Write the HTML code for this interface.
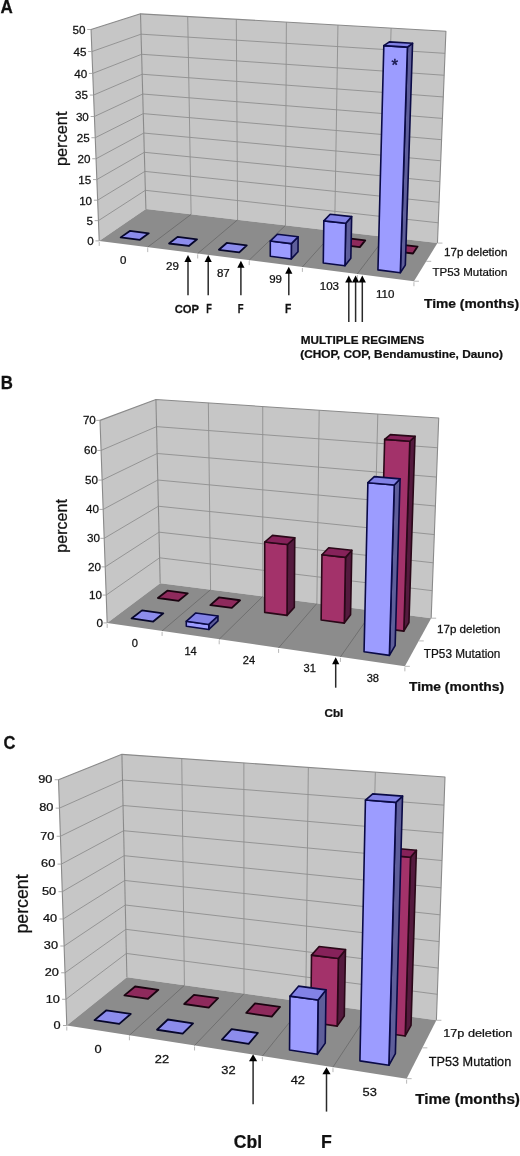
<!DOCTYPE html>
<html><head><meta charset="utf-8"><style>
html,body{margin:0;padding:0;background:#fff;}
svg{display:block;will-change:transform;}
text{font-family:"Liberation Sans", sans-serif;fill:#111;stroke:#111;stroke-width:0.25px;}
</style></head><body>
<svg width="520" height="1156" viewBox="0 0 520 1156">
<rect width="520" height="1156" fill="#fff"/>
<polygon points="99.22,240.88 91.04,29.49 140.49,13.85 145.89,209.08" fill="#c6c6c6"/>
<polygon points="145.89,209.08 140.49,13.85 445.92,31.22 437.46,243.09" fill="#c6c6c6"/>
<polygon points="99.22,240.88 145.89,209.08 437.46,243.09 413.93,281.23" fill="#8c8c8c"/>
<polyline points="98.44,220.64 145.37,190.32 438.27,222.80" fill="none" stroke="#8e8e8e" stroke-width="0.9"/>
<polyline points="97.65,200.20 144.85,171.40 439.09,202.32" fill="none" stroke="#8e8e8e" stroke-width="0.9"/>
<polyline points="96.85,179.57 144.32,152.30 439.91,181.65" fill="none" stroke="#8e8e8e" stroke-width="0.9"/>
<polyline points="96.04,158.75 143.79,133.05 440.75,160.77" fill="none" stroke="#8e8e8e" stroke-width="0.9"/>
<polyline points="95.23,137.72 143.25,113.62 441.59,139.70" fill="none" stroke="#8e8e8e" stroke-width="0.9"/>
<polyline points="94.41,116.49 142.71,94.02 442.44,118.42" fill="none" stroke="#8e8e8e" stroke-width="0.9"/>
<polyline points="93.58,95.06 142.16,74.24 443.30,96.94" fill="none" stroke="#8e8e8e" stroke-width="0.9"/>
<polyline points="92.74,73.41 141.61,54.29 444.16,75.25" fill="none" stroke="#8e8e8e" stroke-width="0.9"/>
<polyline points="91.90,51.56 141.05,34.16 445.04,53.34" fill="none" stroke="#8e8e8e" stroke-width="0.9"/>
<line x1="191.11" y1="214.36" x2="187.71" y2="16.54" stroke="#8e8e8e" stroke-width="0.9"/>
<line x1="147.72" y1="247.10" x2="191.11" y2="214.36" stroke="#6c6c6c" stroke-width="0.9"/>
<line x1="237.61" y1="219.78" x2="236.31" y2="19.30" stroke="#8e8e8e" stroke-width="0.9"/>
<line x1="197.70" y1="253.51" x2="237.61" y2="219.78" stroke="#6c6c6c" stroke-width="0.9"/>
<line x1="285.44" y1="225.36" x2="286.37" y2="22.15" stroke="#8e8e8e" stroke-width="0.9"/>
<line x1="249.23" y1="260.12" x2="285.44" y2="225.36" stroke="#6c6c6c" stroke-width="0.9"/>
<line x1="334.64" y1="231.10" x2="337.94" y2="25.08" stroke="#8e8e8e" stroke-width="0.9"/>
<line x1="302.40" y1="266.93" x2="334.64" y2="231.10" stroke="#6c6c6c" stroke-width="0.9"/>
<line x1="385.30" y1="237.01" x2="391.10" y2="28.10" stroke="#8e8e8e" stroke-width="0.9"/>
<line x1="357.27" y1="273.97" x2="385.30" y2="237.01" stroke="#6c6c6c" stroke-width="0.9"/>
<polyline points="99.22,240.88 91.04,29.49 140.49,13.85 445.92,31.22 437.46,243.09" fill="none" stroke="#8a8a8a" stroke-width="1.1" stroke-linejoin="round"/>
<line x1="140.49" y1="13.85" x2="145.89" y2="209.08" stroke="#8a8a8a" stroke-width="1.1"/>
<line x1="95.42" y1="240.88" x2="99.22" y2="240.88" stroke="#a0a0a0" stroke-width="0.9"/>
<text transform="translate(87.18,245.19) scale(1.0700,1)" font-size="10.90">0</text>
<line x1="94.64" y1="220.64" x2="98.44" y2="220.64" stroke="#a0a0a0" stroke-width="0.9"/>
<text transform="translate(86.43,224.94) scale(1.0700,1)" font-size="10.90">5</text>
<line x1="93.85" y1="200.20" x2="97.65" y2="200.20" stroke="#a0a0a0" stroke-width="0.9"/>
<text transform="translate(79.14,204.51) scale(1.0700,1)" font-size="10.90">10</text>
<line x1="93.05" y1="179.57" x2="96.85" y2="179.57" stroke="#a0a0a0" stroke-width="0.9"/>
<text transform="translate(78.37,183.88) scale(1.0700,1)" font-size="10.90">15</text>
<line x1="92.24" y1="158.75" x2="96.04" y2="158.75" stroke="#a0a0a0" stroke-width="0.9"/>
<text transform="translate(77.53,163.05) scale(1.0700,1)" font-size="10.90">20</text>
<line x1="91.43" y1="137.72" x2="95.23" y2="137.72" stroke="#a0a0a0" stroke-width="0.9"/>
<text transform="translate(76.75,142.02) scale(1.0700,1)" font-size="10.90">25</text>
<line x1="90.61" y1="116.49" x2="94.41" y2="116.49" stroke="#a0a0a0" stroke-width="0.9"/>
<text transform="translate(75.90,120.80) scale(1.0700,1)" font-size="10.90">30</text>
<line x1="89.78" y1="95.06" x2="93.58" y2="95.06" stroke="#a0a0a0" stroke-width="0.9"/>
<text transform="translate(75.10,99.36) scale(1.0700,1)" font-size="10.90">35</text>
<line x1="88.94" y1="73.41" x2="92.74" y2="73.41" stroke="#a0a0a0" stroke-width="0.9"/>
<text transform="translate(74.23,77.72) scale(1.0700,1)" font-size="10.90">40</text>
<line x1="88.10" y1="51.56" x2="91.90" y2="51.56" stroke="#a0a0a0" stroke-width="0.9"/>
<text transform="translate(73.42,55.86) scale(1.0700,1)" font-size="10.90">45</text>
<line x1="87.24" y1="29.49" x2="91.04" y2="29.49" stroke="#a0a0a0" stroke-width="0.9"/>
<text transform="translate(72.53,33.79) scale(1.0700,1)" font-size="10.90">50</text>
<line x1="99.22" y1="241.88" x2="99.22" y2="245.88" stroke="#b0b0b0" stroke-width="0.9"/>
<line x1="147.72" y1="248.10" x2="147.72" y2="252.10" stroke="#b0b0b0" stroke-width="0.9"/>
<line x1="197.70" y1="254.51" x2="197.70" y2="258.51" stroke="#b0b0b0" stroke-width="0.9"/>
<line x1="249.23" y1="261.12" x2="249.23" y2="265.12" stroke="#b0b0b0" stroke-width="0.9"/>
<line x1="302.40" y1="267.93" x2="302.40" y2="271.93" stroke="#b0b0b0" stroke-width="0.9"/>
<line x1="357.27" y1="274.97" x2="357.27" y2="278.97" stroke="#b0b0b0" stroke-width="0.9"/>
<line x1="413.93" y1="282.23" x2="413.93" y2="286.23" stroke="#b0b0b0" stroke-width="0.9"/>
<line x1="413.93" y1="281.23" x2="418.93" y2="281.23" stroke="#b0b0b0" stroke-width="0.9"/>
<line x1="426.23" y1="261.30" x2="431.23" y2="261.30" stroke="#b0b0b0" stroke-width="0.9"/>
<line x1="437.46" y1="243.09" x2="442.46" y2="243.09" stroke="#b0b0b0" stroke-width="0.9"/>
<polygon points="339.04,244.60 359.85,247.10 365.25,240.37 344.75,237.95" fill="#8e2a5c" stroke="#1a0410" stroke-width="1.8" stroke-linejoin="round"/>
<polygon points="391.54,250.92 412.99,253.50 417.57,246.56 396.46,244.06" fill="#8e2a5c" stroke="#1a0410" stroke-width="1.8" stroke-linejoin="round"/>
<polygon points="120.68,237.38 139.86,239.80 148.76,233.30 129.85,230.95" fill="#8c8cec" stroke="#06062a" stroke-width="1.8" stroke-linejoin="round"/>
<polygon points="169.05,243.49 188.81,245.98 197.04,239.28 177.56,236.87" fill="#8c8cec" stroke="#06062a" stroke-width="1.8" stroke-linejoin="round"/>
<polygon points="218.90,249.78 239.27,252.35 246.77,245.44 226.70,242.96" fill="#8c8cec" stroke="#06062a" stroke-width="1.8" stroke-linejoin="round"/>
<polygon points="291.28,258.92 298.01,251.79 298.12,236.74 291.37,243.63" fill="#5e5e9a" stroke="#0a0a46" stroke-width="1.6" stroke-linejoin="round"/>
<polygon points="270.28,256.27 291.28,258.92 291.37,243.63 270.30,241.06" fill="#9c9cff" stroke="#0a0a46" stroke-width="1.6" stroke-linejoin="round"/>
<polygon points="270.30,241.06 291.37,243.63 298.12,236.74 277.37,234.26" fill="#8282e6" stroke="#0a0a46" stroke-width="1.6" stroke-linejoin="round"/>
<polygon points="344.94,265.70 350.84,258.34 351.67,216.64 345.72,223.33" fill="#5e5e9a" stroke="#0a0a46" stroke-width="1.6" stroke-linejoin="round"/>
<polygon points="323.27,262.96 344.94,265.70 345.72,223.33 323.84,220.84" fill="#9c9cff" stroke="#0a0a46" stroke-width="1.6" stroke-linejoin="round"/>
<polygon points="323.84,220.84 345.72,223.33 351.67,216.64 330.13,214.23" fill="#8282e6" stroke="#0a0a46" stroke-width="1.6" stroke-linejoin="round"/>
<polygon points="400.31,272.69 405.33,265.09 412.56,43.29 407.41,47.10" fill="#5e5e9a" stroke="#0a0a46" stroke-width="1.6" stroke-linejoin="round"/>
<polygon points="377.95,269.87 400.31,272.69 407.41,47.10 383.83,45.64" fill="#9c9cff" stroke="#0a0a46" stroke-width="1.6" stroke-linejoin="round"/>
<polygon points="383.83,45.64 407.41,47.10 412.56,43.29 389.38,41.88" fill="#8282e6" stroke="#0a0a46" stroke-width="1.6" stroke-linejoin="round"/>
<text transform="translate(120.07,263.93) scale(1.1000,1)" font-size="10.50">0</text>
<text transform="translate(166.08,270.25) scale(1.1000,1)" font-size="10.50">29</text>
<text transform="translate(216.90,276.75) scale(1.1000,1)" font-size="10.50">87</text>
<text transform="translate(269.18,283.46) scale(1.1000,1)" font-size="10.50">99</text>
<text transform="translate(319.80,290.39) scale(1.1000,1)" font-size="10.50">103</text>
<text transform="translate(375.95,297.54) scale(1.1000,1)" font-size="10.50">110</text>
<text transform="translate(0.52,12.70) scale(0.9715,1)" font-size="17.51" font-weight="bold">A</text>
<text transform="translate(66.67,166.11) rotate(-90) scale(1.0230,1)" font-size="16.00">percent</text>
<text transform="translate(443.98,256.25) scale(1.1367,1)" font-size="10.24">17p deletion</text>
<text transform="translate(432.49,275.50) scale(1.0096,1)" font-size="11.41">TP53 Mutation</text>
<text transform="translate(423.93,308.00) scale(1.0708,1)" font-size="12.94" font-weight="bold">Time (months)</text>
<line x1="188" y1="261" x2="188" y2="295.3" stroke="#2a2a2a" stroke-width="1.5"/>
<polygon points="188,255 184.4,262 191.6,262" fill="#000"/>
<line x1="208.2" y1="261" x2="208.2" y2="295.3" stroke="#2a2a2a" stroke-width="1.5"/>
<polygon points="208.2,255 204.6,262 211.79999999999998,262" fill="#000"/>
<line x1="240.9" y1="266.8" x2="240.9" y2="295.3" stroke="#2a2a2a" stroke-width="1.5"/>
<polygon points="240.9,260.8 237.3,267.8 244.5,267.8" fill="#000"/>
<line x1="288.8" y1="272.7" x2="288.8" y2="295.3" stroke="#2a2a2a" stroke-width="1.5"/>
<polygon points="288.8,266.7 285.2,273.7 292.40000000000003,273.7" fill="#000"/>
<line x1="348.8" y1="281.4" x2="348.8" y2="322" stroke="#2a2a2a" stroke-width="1.5"/>
<polygon points="348.8,275.4 345.2,282.4 352.40000000000003,282.4" fill="#000"/>
<line x1="355.6" y1="281.4" x2="355.6" y2="322" stroke="#2a2a2a" stroke-width="1.5"/>
<polygon points="355.6,275.4 352.0,282.4 359.20000000000005,282.4" fill="#000"/>
<line x1="362.3" y1="281.4" x2="362.3" y2="322" stroke="#2a2a2a" stroke-width="1.5"/>
<polygon points="362.3,275.4 358.7,282.4 365.90000000000003,282.4" fill="#000"/>
<text transform="translate(174.70,312.50) scale(0.9502,1)" font-size="11.82" font-weight="bold">COP</text>
<text transform="translate(206.13,312.50) scale(0.7641,1)" font-size="11.99" font-weight="bold">F</text>
<text transform="translate(237.71,312.50) scale(0.7888,1)" font-size="11.99" font-weight="bold">F</text>
<text transform="translate(284.95,312.50) scale(0.8627,1)" font-size="11.99" font-weight="bold">F</text>
<text transform="translate(300.81,343.75) scale(1.0212,1)" font-size="11.48" font-weight="bold">MULTIPLE REGIMENS</text>
<text transform="translate(300.26,358.00) scale(1.0655,1)" font-size="11.12" font-weight="bold">(CHOP, COP, Bendamustine, Dauno)</text>
<text x="391.51" y="70.64" font-size="16.86" style="fill:#1a1a50;stroke:#1a1a50;stroke-width:0.5px">*</text>
<polygon points="107.18,622.91 100.00,420.36 155.92,399.49 160.19,583.15" fill="#c6c6c6"/>
<polygon points="160.19,583.15 155.92,399.49 438.72,418.07 431.17,618.20" fill="#c6c6c6"/>
<polygon points="107.18,622.91 160.19,583.15 431.17,618.20 404.87,666.33" fill="#8c8c8c"/>
<polyline points="106.20,595.07 159.60,557.81 432.21,590.67" fill="none" stroke="#8e8e8e" stroke-width="0.9"/>
<polyline points="105.20,566.87 159.00,532.17 433.26,562.81" fill="none" stroke="#8e8e8e" stroke-width="0.9"/>
<polyline points="104.18,538.32 158.40,506.24 434.32,534.59" fill="none" stroke="#8e8e8e" stroke-width="0.9"/>
<polyline points="103.16,509.40 157.79,480.02 435.40,506.01" fill="none" stroke="#8e8e8e" stroke-width="0.9"/>
<polyline points="102.12,480.10 157.17,453.49 436.49,477.07" fill="none" stroke="#8e8e8e" stroke-width="0.9"/>
<polyline points="101.07,450.43 156.55,426.64 437.60,447.76" fill="none" stroke="#8e8e8e" stroke-width="0.9"/>
<line x1="210.59" y1="589.67" x2="208.35" y2="402.93" stroke="#8e8e8e" stroke-width="0.9"/>
<line x1="162.10" y1="630.92" x2="210.59" y2="589.67" stroke="#6c6c6c" stroke-width="0.9"/>
<line x1="262.79" y1="596.42" x2="262.74" y2="406.50" stroke="#8e8e8e" stroke-width="0.9"/>
<line x1="219.19" y1="639.25" x2="262.79" y2="596.42" stroke="#6c6c6c" stroke-width="0.9"/>
<line x1="316.88" y1="603.42" x2="319.18" y2="410.21" stroke="#8e8e8e" stroke-width="0.9"/>
<line x1="278.58" y1="647.91" x2="316.88" y2="603.42" stroke="#6c6c6c" stroke-width="0.9"/>
<line x1="372.97" y1="610.67" x2="377.80" y2="414.06" stroke="#8e8e8e" stroke-width="0.9"/>
<line x1="340.43" y1="656.93" x2="372.97" y2="610.67" stroke="#6c6c6c" stroke-width="0.9"/>
<polyline points="107.18,622.91 100.00,420.36 155.92,399.49 438.72,418.07 431.17,618.20" fill="none" stroke="#8a8a8a" stroke-width="1.1" stroke-linejoin="round"/>
<line x1="155.92" y1="399.49" x2="160.19" y2="583.15" stroke="#8a8a8a" stroke-width="1.1"/>
<line x1="103.38" y1="622.91" x2="107.18" y2="622.91" stroke="#a0a0a0" stroke-width="0.9"/>
<text transform="translate(96.55,626.92) scale(1.0700,1)" font-size="10.90">0</text>
<line x1="102.40" y1="595.07" x2="106.20" y2="595.07" stroke="#a0a0a0" stroke-width="0.9"/>
<text transform="translate(89.09,599.07) scale(1.0700,1)" font-size="10.90">10</text>
<line x1="101.40" y1="566.87" x2="105.20" y2="566.87" stroke="#a0a0a0" stroke-width="0.9"/>
<text transform="translate(88.09,570.88) scale(1.0700,1)" font-size="10.90">20</text>
<line x1="100.38" y1="538.32" x2="104.18" y2="538.32" stroke="#a0a0a0" stroke-width="0.9"/>
<text transform="translate(87.07,542.32) scale(1.0700,1)" font-size="10.90">30</text>
<line x1="99.36" y1="509.40" x2="103.16" y2="509.40" stroke="#a0a0a0" stroke-width="0.9"/>
<text transform="translate(86.05,513.40) scale(1.0700,1)" font-size="10.90">40</text>
<line x1="98.32" y1="480.10" x2="102.12" y2="480.10" stroke="#a0a0a0" stroke-width="0.9"/>
<text transform="translate(85.01,484.11) scale(1.0700,1)" font-size="10.90">50</text>
<line x1="97.27" y1="450.43" x2="101.07" y2="450.43" stroke="#a0a0a0" stroke-width="0.9"/>
<text transform="translate(83.96,454.43) scale(1.0700,1)" font-size="10.90">60</text>
<line x1="96.20" y1="420.36" x2="100.00" y2="420.36" stroke="#a0a0a0" stroke-width="0.9"/>
<text transform="translate(82.89,424.37) scale(1.0700,1)" font-size="10.90">70</text>
<line x1="107.18" y1="623.91" x2="107.18" y2="627.91" stroke="#b0b0b0" stroke-width="0.9"/>
<line x1="162.10" y1="631.92" x2="162.10" y2="635.92" stroke="#b0b0b0" stroke-width="0.9"/>
<line x1="219.19" y1="640.25" x2="219.19" y2="644.25" stroke="#b0b0b0" stroke-width="0.9"/>
<line x1="278.58" y1="648.91" x2="278.58" y2="652.91" stroke="#b0b0b0" stroke-width="0.9"/>
<line x1="340.43" y1="657.93" x2="340.43" y2="661.93" stroke="#b0b0b0" stroke-width="0.9"/>
<line x1="404.87" y1="667.33" x2="404.87" y2="671.33" stroke="#b0b0b0" stroke-width="0.9"/>
<line x1="404.87" y1="666.33" x2="409.87" y2="666.33" stroke="#b0b0b0" stroke-width="0.9"/>
<line x1="418.76" y1="640.91" x2="423.76" y2="640.91" stroke="#b0b0b0" stroke-width="0.9"/>
<line x1="431.17" y1="618.20" x2="436.17" y2="618.20" stroke="#b0b0b0" stroke-width="0.9"/>
<polygon points="157.90,598.01 178.64,600.80 187.75,593.36 167.34,590.68" fill="#8e2a5c" stroke="#1a0410" stroke-width="1.8" stroke-linejoin="round"/>
<polygon points="210.33,605.07 231.84,607.96 240.07,600.25 218.92,597.46" fill="#8e2a5c" stroke="#1a0410" stroke-width="1.8" stroke-linejoin="round"/>
<polygon points="287.02,615.39 294.30,607.39 294.77,537.83 287.38,544.53" fill="#541a3e" stroke="#2a0818" stroke-width="1.6" stroke-linejoin="round"/>
<polygon points="264.70,612.39 287.02,615.39 287.38,544.53 264.71,542.01" fill="#a3326a" stroke="#2a0818" stroke-width="1.6" stroke-linejoin="round"/>
<polygon points="264.71,542.01 287.38,544.53 294.77,537.83 272.50,535.42" fill="#86225a" stroke="#2a0818" stroke-width="1.6" stroke-linejoin="round"/>
<polygon points="344.30,623.10 350.55,614.79 351.81,550.28 345.49,557.35" fill="#541a3e" stroke="#2a0818" stroke-width="1.6" stroke-linejoin="round"/>
<polygon points="321.13,619.98 344.30,623.10 345.49,557.35 321.97,554.69" fill="#a3326a" stroke="#2a0818" stroke-width="1.6" stroke-linejoin="round"/>
<polygon points="321.97,554.69 345.49,557.35 351.81,550.28 328.72,547.73" fill="#86225a" stroke="#2a0818" stroke-width="1.6" stroke-linejoin="round"/>
<polygon points="403.80,631.11 408.94,622.48 415.04,436.35 409.81,441.25" fill="#541a3e" stroke="#2a0818" stroke-width="1.6" stroke-linejoin="round"/>
<polygon points="379.73,627.87 403.80,631.11 409.81,441.25 384.66,439.40" fill="#a3326a" stroke="#2a0818" stroke-width="1.6" stroke-linejoin="round"/>
<polygon points="384.66,439.40 409.81,441.25 415.04,436.35 390.38,434.58" fill="#86225a" stroke="#2a0818" stroke-width="1.6" stroke-linejoin="round"/>
<polygon points="131.56,618.47 153.22,621.57 163.33,613.31 142.03,610.34" fill="#8c8cec" stroke="#06062a" stroke-width="1.8" stroke-linejoin="round"/>
<polygon points="208.84,629.52 217.98,620.95 217.93,615.98 208.77,624.46" fill="#5e5e9a" stroke="#0a0a46" stroke-width="1.6" stroke-linejoin="round"/>
<polygon points="186.33,626.30 208.84,629.52 208.77,624.46 186.25,621.28" fill="#9c9cff" stroke="#0a0a46" stroke-width="1.6" stroke-linejoin="round"/>
<polygon points="186.25,621.28 208.77,624.46 217.93,615.98 195.80,612.93" fill="#8282e6" stroke="#0a0a46" stroke-width="1.6" stroke-linejoin="round"/>
<polygon points="389.38,655.34 395.13,645.69 400.10,478.85 394.25,485.00" fill="#5e5e9a" stroke="#0a0a46" stroke-width="1.6" stroke-linejoin="round"/>
<polygon points="364.04,651.72 389.38,655.34 394.25,485.00 367.88,482.68" fill="#9c9cff" stroke="#0a0a46" stroke-width="1.6" stroke-linejoin="round"/>
<polygon points="367.88,482.68 394.25,485.00 400.10,478.85 374.28,476.63" fill="#8282e6" stroke="#0a0a46" stroke-width="1.6" stroke-linejoin="round"/>
<text transform="translate(131.77,646.91) scale(1.0400,1)" font-size="10.70">0</text>
<text transform="translate(184.42,655.08) scale(1.0400,1)" font-size="10.70">14</text>
<text transform="translate(242.79,663.57) scale(1.0400,1)" font-size="10.70">24</text>
<text transform="translate(303.57,672.41) scale(1.0400,1)" font-size="10.70">31</text>
<text transform="translate(366.67,681.61) scale(1.0400,1)" font-size="10.70">38</text>
<text transform="translate(0.65,388.75) scale(0.9184,1)" font-size="18.31" font-weight="bold">B</text>
<text transform="translate(66.87,552.70) rotate(-90) scale(1.0057,1)" font-size="16.00">percent</text>
<text transform="translate(436.98,633.00) scale(1.1367,1)" font-size="10.24">17p deletion</text>
<text transform="translate(423.84,657.50) scale(0.8855,1)" font-size="13.30">TP53 Mutation</text>
<text transform="translate(408.93,690.50) scale(1.0708,1)" font-size="12.94" font-weight="bold">Time (months)</text>
<line x1="335.7" y1="663.2" x2="335.7" y2="687.7" stroke="#2a2a2a" stroke-width="1.5"/>
<polygon points="335.7,657.2 332.09999999999997,664.2 339.3,664.2" fill="#000"/>
<text transform="translate(324.48,717.00) scale(1.0914,1)" font-size="10.69" font-weight="bold">Cbl</text>
<polygon points="66.79,1025.50 58.49,779.72 121.91,754.36 126.89,977.35" fill="#c6c6c6"/>
<polygon points="126.89,977.35 121.91,754.36 444.99,777.03 436.39,1020.28" fill="#c6c6c6"/>
<polygon points="66.79,1025.50 126.89,977.35 436.39,1020.28 406.62,1078.66" fill="#8c8c8c"/>
<polyline points="65.91,999.27 126.36,953.45 437.31,994.30" fill="none" stroke="#8e8e8e" stroke-width="0.9"/>
<polyline points="65.01,972.77 125.82,929.34 438.24,968.07" fill="none" stroke="#8e8e8e" stroke-width="0.9"/>
<polyline points="64.11,946.01 125.28,905.01 439.18,941.58" fill="none" stroke="#8e8e8e" stroke-width="0.9"/>
<polyline points="63.20,918.99 124.73,880.47 440.12,914.83" fill="none" stroke="#8e8e8e" stroke-width="0.9"/>
<polyline points="62.27,891.69 124.17,855.70 441.08,887.82" fill="none" stroke="#8e8e8e" stroke-width="0.9"/>
<polyline points="61.34,864.12 123.62,830.71 442.04,860.54" fill="none" stroke="#8e8e8e" stroke-width="0.9"/>
<polyline points="60.40,836.27 123.05,805.49 443.02,832.98" fill="none" stroke="#8e8e8e" stroke-width="0.9"/>
<polyline points="59.45,808.14 122.49,780.04 444.00,805.15" fill="none" stroke="#8e8e8e" stroke-width="0.9"/>
<line x1="184.41" y1="985.32" x2="181.76" y2="758.56" stroke="#8e8e8e" stroke-width="0.9"/>
<line x1="129.42" y1="1035.30" x2="184.41" y2="985.32" stroke="#6c6c6c" stroke-width="0.9"/>
<line x1="244.00" y1="993.59" x2="243.86" y2="762.92" stroke="#8e8e8e" stroke-width="0.9"/>
<line x1="194.56" y1="1045.49" x2="244.00" y2="993.59" stroke="#6c6c6c" stroke-width="0.9"/>
<line x1="305.78" y1="1002.16" x2="308.33" y2="767.44" stroke="#8e8e8e" stroke-width="0.9"/>
<line x1="262.36" y1="1056.10" x2="305.78" y2="1002.16" stroke="#6c6c6c" stroke-width="0.9"/>
<line x1="369.86" y1="1011.05" x2="375.33" y2="772.14" stroke="#8e8e8e" stroke-width="0.9"/>
<line x1="332.98" y1="1067.14" x2="369.86" y2="1011.05" stroke="#6c6c6c" stroke-width="0.9"/>
<polyline points="66.79,1025.50 58.49,779.72 121.91,754.36 444.99,777.03 436.39,1020.28" fill="none" stroke="#8a8a8a" stroke-width="1.1" stroke-linejoin="round"/>
<line x1="121.91" y1="754.36" x2="126.89" y2="977.35" stroke="#8a8a8a" stroke-width="1.1"/>
<line x1="62.99" y1="1025.50" x2="66.79" y2="1025.50" stroke="#a0a0a0" stroke-width="0.9"/>
<text transform="translate(53.60,1028.77) scale(1.1800,1)" font-size="10.80">0</text>
<line x1="62.11" y1="999.27" x2="65.91" y2="999.27" stroke="#a0a0a0" stroke-width="0.9"/>
<text transform="translate(45.64,1002.54) scale(1.1800,1)" font-size="10.80">10</text>
<line x1="61.21" y1="972.77" x2="65.01" y2="972.77" stroke="#a0a0a0" stroke-width="0.9"/>
<text transform="translate(44.75,976.04) scale(1.1800,1)" font-size="10.80">20</text>
<line x1="60.31" y1="946.01" x2="64.11" y2="946.01" stroke="#a0a0a0" stroke-width="0.9"/>
<text transform="translate(43.84,949.28) scale(1.1800,1)" font-size="10.80">30</text>
<line x1="59.40" y1="918.99" x2="63.20" y2="918.99" stroke="#a0a0a0" stroke-width="0.9"/>
<text transform="translate(42.93,922.26) scale(1.1800,1)" font-size="10.80">40</text>
<line x1="58.47" y1="891.69" x2="62.27" y2="891.69" stroke="#a0a0a0" stroke-width="0.9"/>
<text transform="translate(42.01,894.96) scale(1.1800,1)" font-size="10.80">50</text>
<line x1="57.54" y1="864.12" x2="61.34" y2="864.12" stroke="#a0a0a0" stroke-width="0.9"/>
<text transform="translate(41.08,867.39) scale(1.1800,1)" font-size="10.80">60</text>
<line x1="56.60" y1="836.27" x2="60.40" y2="836.27" stroke="#a0a0a0" stroke-width="0.9"/>
<text transform="translate(40.13,839.54) scale(1.1800,1)" font-size="10.80">70</text>
<line x1="55.65" y1="808.14" x2="59.45" y2="808.14" stroke="#a0a0a0" stroke-width="0.9"/>
<text transform="translate(39.18,811.41) scale(1.1800,1)" font-size="10.80">80</text>
<line x1="54.69" y1="779.72" x2="58.49" y2="779.72" stroke="#a0a0a0" stroke-width="0.9"/>
<text transform="translate(38.22,782.98) scale(1.1800,1)" font-size="10.80">90</text>
<line x1="66.79" y1="1026.50" x2="66.79" y2="1030.50" stroke="#b0b0b0" stroke-width="0.9"/>
<line x1="129.42" y1="1036.30" x2="129.42" y2="1040.30" stroke="#b0b0b0" stroke-width="0.9"/>
<line x1="194.56" y1="1046.49" x2="194.56" y2="1050.49" stroke="#b0b0b0" stroke-width="0.9"/>
<line x1="262.36" y1="1057.10" x2="262.36" y2="1061.10" stroke="#b0b0b0" stroke-width="0.9"/>
<line x1="332.98" y1="1068.14" x2="332.98" y2="1072.14" stroke="#b0b0b0" stroke-width="0.9"/>
<line x1="406.62" y1="1079.66" x2="406.62" y2="1083.66" stroke="#b0b0b0" stroke-width="0.9"/>
<line x1="406.62" y1="1078.66" x2="411.62" y2="1078.66" stroke="#b0b0b0" stroke-width="0.9"/>
<line x1="422.34" y1="1047.83" x2="427.34" y2="1047.83" stroke="#b0b0b0" stroke-width="0.9"/>
<line x1="436.39" y1="1020.28" x2="441.39" y2="1020.28" stroke="#b0b0b0" stroke-width="0.9"/>
<polygon points="124.39,995.37 148.06,998.79 158.39,989.78 135.10,986.49" fill="#8e2a5c" stroke="#1a0410" stroke-width="1.8" stroke-linejoin="round"/>
<polygon points="184.21,1004.01 208.76,1007.56 218.10,998.21 193.96,994.80" fill="#8e2a5c" stroke="#1a0410" stroke-width="1.8" stroke-linejoin="round"/>
<polygon points="246.28,1012.97 271.77,1016.65 280.02,1006.95 254.98,1003.41" fill="#8e2a5c" stroke="#1a0410" stroke-width="1.8" stroke-linejoin="round"/>
<polygon points="337.20,1026.10 344.28,1016.02 345.49,949.64 338.34,958.46" fill="#541a3e" stroke="#2a0818" stroke-width="1.6" stroke-linejoin="round"/>
<polygon points="310.72,1022.28 337.20,1026.10 338.34,958.46 311.52,955.12" fill="#a3326a" stroke="#2a0818" stroke-width="1.6" stroke-linejoin="round"/>
<polygon points="311.52,955.12 338.34,958.46 345.49,949.64 319.16,946.43" fill="#86225a" stroke="#2a0818" stroke-width="1.6" stroke-linejoin="round"/>
<polygon points="405.20,1035.92 411.02,1025.44 416.39,850.24 410.49,857.25" fill="#541a3e" stroke="#2a0818" stroke-width="1.6" stroke-linejoin="round"/>
<polygon points="377.68,1031.94 405.20,1035.92 410.49,857.25 382.01,854.59" fill="#a3326a" stroke="#2a0818" stroke-width="1.6" stroke-linejoin="round"/>
<polygon points="382.01,854.59 410.49,857.25 416.39,850.24 388.47,847.69" fill="#86225a" stroke="#2a0818" stroke-width="1.6" stroke-linejoin="round"/>
<polygon points="94.53,1020.15 119.24,1023.94 130.69,1013.95 106.40,1010.31" fill="#8c8cec" stroke="#06062a" stroke-width="1.8" stroke-linejoin="round"/>
<polygon points="157.01,1029.74 182.69,1033.67 193.06,1023.29 167.83,1019.51" fill="#8c8cec" stroke="#06062a" stroke-width="1.8" stroke-linejoin="round"/>
<polygon points="221.96,1039.70 248.67,1043.80 257.86,1033.00 231.64,1029.07" fill="#8c8cec" stroke="#06062a" stroke-width="1.8" stroke-linejoin="round"/>
<polygon points="317.34,1054.33 325.25,1043.09 326.03,989.85 318.06,1000.03" fill="#5e5e9a" stroke="#0a0a46" stroke-width="1.6" stroke-linejoin="round"/>
<polygon points="289.54,1050.07 317.34,1054.33 318.06,1000.03 289.97,996.16" fill="#9c9cff" stroke="#0a0a46" stroke-width="1.6" stroke-linejoin="round"/>
<polygon points="289.97,996.16 318.06,1000.03 326.03,989.85 298.48,986.15" fill="#8282e6" stroke="#0a0a46" stroke-width="1.6" stroke-linejoin="round"/>
<polygon points="388.87,1065.31 395.38,1053.60 402.55,796.14 395.89,802.40" fill="#5e5e9a" stroke="#0a0a46" stroke-width="1.6" stroke-linejoin="round"/>
<polygon points="359.91,1060.86 388.87,1065.31 395.89,802.40 365.44,800.02" fill="#9c9cff" stroke="#0a0a46" stroke-width="1.6" stroke-linejoin="round"/>
<polygon points="365.44,800.02 395.89,802.40 402.55,796.14 372.73,793.86" fill="#8282e6" stroke="#0a0a46" stroke-width="1.6" stroke-linejoin="round"/>
<text transform="translate(94.51,1053.13) scale(1.1300,1)" font-size="11.40">0</text>
<text transform="translate(154.82,1063.12) scale(1.1300,1)" font-size="11.40">22</text>
<text transform="translate(221.34,1073.52) scale(1.1300,1)" font-size="11.40">32</text>
<text transform="translate(290.63,1084.34) scale(1.1300,1)" font-size="11.40">42</text>
<text transform="translate(362.58,1095.62) scale(1.1300,1)" font-size="11.40">53</text>
<text transform="translate(3.44,749.00) scale(0.9127,1)" font-size="18.15" font-weight="bold">C</text>
<text transform="translate(27.54,933.61) rotate(-90) scale(1.0159,1)" font-size="17.50">percent</text>
<text transform="translate(443.15,1037.00) scale(1.1245,1)" font-size="11.32">17p deletion</text>
<text transform="translate(428.81,1065.50) scale(1.0380,1)" font-size="12.21">TP53 Mutation</text>
<text transform="translate(415.16,1104.00) scale(1.0345,1)" font-size="14.75" font-weight="bold">Time (months)</text>
<line x1="253.1" y1="1060.3" x2="253.1" y2="1104.2" stroke="#2a2a2a" stroke-width="1.5"/>
<polygon points="253.1,1054.3 249.0,1061.3 257.2,1061.3" fill="#000"/>
<line x1="326.5" y1="1073.2" x2="326.5" y2="1111.6" stroke="#2a2a2a" stroke-width="1.5"/>
<polygon points="326.5,1067.2 322.4,1074.2 330.6,1074.2" fill="#000"/>
<text transform="translate(233.85,1148.00) scale(0.9816,1)" font-size="17.86" font-weight="bold">Cbl</text>
<text transform="translate(321.05,1148.00) scale(0.9422,1)" font-size="18.82" font-weight="bold">F</text>
</svg>
</body></html>
